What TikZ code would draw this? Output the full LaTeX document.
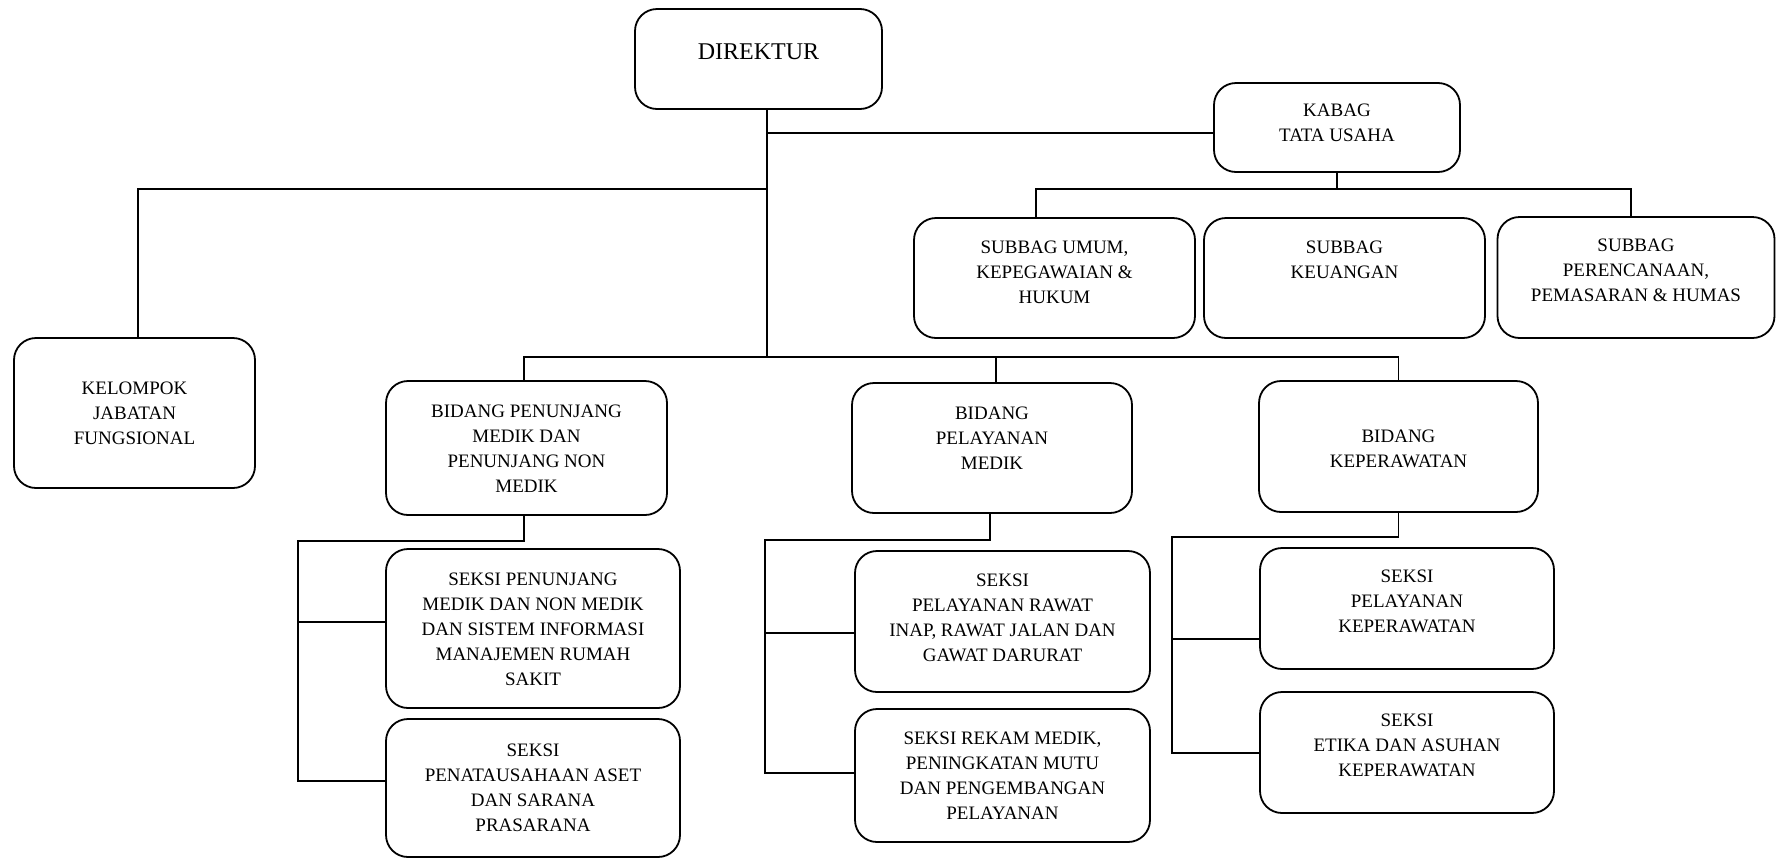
\documentclass[tikz,border=0pt]{standalone}
\usepackage{fontspec}
\setmainfont{Liberation Serif}
\usetikzlibrary{calc}
\begin{document}
\begin{tikzpicture}[x=1pt,y=-1pt,
  box/.style={draw, line width=1.8pt, rounded corners=22pt, inner sep=0pt},
  txt/.style={align=center, inner sep=0pt, font=\fontsize{19}{25}\selectfont},
  wire/.style={line width=1.8pt}]
\useasboundingbox (0,0) rectangle (1777,860);

% boxes
\node[box, minimum width=247pt, minimum height=100pt,
  label={[txt, font=\fontsize{24}{30}\selectfont, yshift=7pt]center:DIREKTUR}] (dir) at (758.5,59) {};
\node[box, minimum width=246pt, minimum height=89pt,
  label={[txt, yshift=5pt]center:{KABAG\\TATA USAHA}}] (kabag) at (1337,127.5) {};
\node[box, minimum width=281pt, minimum height=120pt,
  label={[txt, yshift=5.5pt]center:{SUBBAG UMUM,\\KEPEGAWAIAN \&\\HUKUM}}] (sub1) at (1054.5,278) {};
\node[box, minimum width=281pt, minimum height=120pt,
  label={[txt, yshift=18pt]center:{SUBBAG\\KEUANGAN}}] (sub2) at (1344.5,278) {};
\node[box, minimum width=277pt, minimum height=121pt,
  label={[txt, yshift=7pt]center:{SUBBAG\\PERENCANAAN,\\PEMASARAN \& HUMAS}}] (sub3) at (1636,277.5) {};
\node[box, minimum width=241pt, minimum height=150pt,
  label={[txt]center:{KELOMPOK\\JABATAN\\FUNGSIONAL}}] (kel) at (134.5,413) {};
\node[box, minimum width=281pt, minimum height=134pt,
  label={[txt, yshift=-1pt]center:{BIDANG PENUNJANG\\MEDIK DAN\\PENUNJANG NON\\MEDIK}}] (bid1) at (526.5,448) {};
\node[box, minimum width=280pt, minimum height=130pt,
  label={[txt, yshift=10pt]center:{BIDANG\\PELAYANAN\\MEDIK}}] (bid2) at (992,448) {};
\node[box, minimum width=279pt, minimum height=131pt,
  label={[txt, yshift=-2pt]center:{BIDANG\\KEPERAWATAN}}] (bid3) at (1398.5,446.5) {};
\node[box, minimum width=294pt, minimum height=159pt,
  label={[txt, yshift=-1pt]center:{SEKSI PENUNJANG\\MEDIK DAN NON MEDIK\\DAN SISTEM INFORMASI\\MANAJEMEN RUMAH\\SAKIT}}] (s11) at (533,628.5) {};
\node[box, minimum width=294pt, minimum height=138pt,
  label={[txt]center:{SEKSI\\PENATAUSAHAAN ASET\\DAN SARANA\\PRASARANA}}] (s12) at (533,788) {};
\node[box, minimum width=295pt, minimum height=141pt,
  label={[txt, yshift=3.5pt]center:{SEKSI\\PELAYANAN RAWAT\\INAP, RAWAT JALAN DAN\\GAWAT DARURAT}}] (s21) at (1002.5,621.5) {};
\node[box, minimum width=295pt, minimum height=133pt,
  label={[txt]center:{SEKSI REKAM MEDIK,\\PENINGKATAN MUTU\\DAN PENGEMBANGAN\\PELAYANAN}}] (s22) at (1002.5,775.5) {};
\node[box, minimum width=294pt, minimum height=121pt,
  label={[txt, yshift=7.5pt]center:{SEKSI\\PELAYANAN\\KEPERAWATAN}}] (s31) at (1407,608.5) {};
\node[box, minimum width=294pt, minimum height=121pt,
  label={[txt, yshift=7.5pt]center:{SEKSI\\ETIKA DAN ASUHAN\\KEPERAWATAN}}] (s32) at (1407,752.5) {};

% director connectors
\coordinate (jK) at (767,133);
\coordinate (jL) at (767,189);
\coordinate (jB) at (767,357);
\coordinate (kx) at (138,189);
\coordinate (b1x) at (524,357);
\coordinate (b2x) at (996,357);
\draw[wire] (dir.south -| jB) -- (jB);
\draw[wire] (jK) -- (jK -| kabag.west);
\draw[wire] (jL) -- (kx) -- (kx |- kel.north);
\draw[wire] (b1x |- bid1.north) -- (b1x) -- (bid3.north |- jB) -- (bid3.north);
\draw[wire] (b2x |- bid2.north) -- (b2x);

% kabag connectors
\coordinate (jS) at (1338,189);
\coordinate (s1t) at (1036,189);
\coordinate (s3t) at (1631,189);
\draw[wire] (kabag.south) -- (kabag.south |- jS);
\draw[wire] (s1t |- sub1.north) -- (s1t) -- (s3t) -- (s3t |- sub3.north);

% column 1
\coordinate (B1) at (524,541);
\coordinate (L1) at (298,541);
\coordinate (L1a) at (298,622);
\coordinate (L1b) at (298,781);
\draw[wire] (B1 |- bid1.south) -- (B1) -- (L1) -- (L1b) -- (L1b -| s12.west);
\draw[wire] (L1a) -- (L1a -| s11.west);

% column 2
\coordinate (B2) at (990,540);
\coordinate (L2) at (765,540);
\coordinate (L2a) at (765,633);
\coordinate (L2b) at (765,773);
\draw[wire] (B2 |- bid2.south) -- (B2) -- (L2) -- (L2b) -- (L2b -| s22.west);
\draw[wire] (L2a) -- (L2a -| s21.west);

% column 3
\coordinate (L3) at (1172,537);
\coordinate (L3a) at (1172,639);
\coordinate (L3b) at (1172,753);
\draw[wire] (bid3.south) |- (L3) -- (L3b) -- (L3b -| s32.west);
\draw[wire] (L3a) -- (L3a -| s31.west);
\end{tikzpicture}
\end{document}
